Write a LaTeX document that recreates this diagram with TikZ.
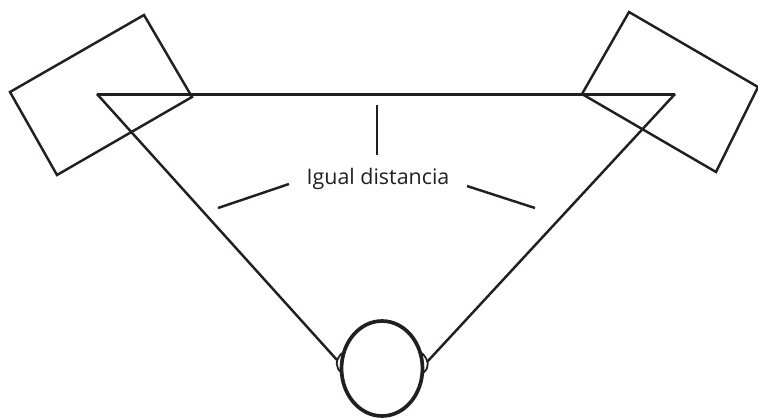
\documentclass[tikz,border=0pt]{standalone}
\usepackage{fontspec}
\setmainfont{Open Sans}
\usetikzlibrary{positioning, shapes.geometric}
\definecolor{mink}{HTML}{231F20}
\tikzset{
  wire/.style={mink, line width=1.4pt, line join=miter},
  topwire/.style={mink, line width=1.7pt},
  headbox/.style={draw=mink, line width=2.1pt, ellipse, inner sep=0pt,
                  minimum width=1.62cm, minimum height=1.9cm},
  earwire/.style={mink, line width=1pt},
  labelbox/.style={text=mink, font=\fontsize{12.2}{14}\selectfont, inner sep=0pt, anchor=base},
}
\begin{document}
\begin{tikzpicture}[x=0.02cm, y=-0.02cm]
  \useasboundingbox (0,0) rectangle (758,417);

  %% Speakers
  \draw[wire] (144,15) -- (192,97) -- (57,175) -- (10,92) -- cycle;
  \draw[wire] (629,12) -- (758,87) -- (716,172) -- (582,94) -- cycle;

  %% Listening triangle
  \coordinate (apexL) at (97,94);
  \coordinate (apexR) at (675,94);
  \coordinate (earL) at (337,360);
  \coordinate (earR) at (427,362);
  \draw[topwire] (apexL) -- (apexR);
  \draw[wire] (apexL) -- (earL);
  \draw[wire] (apexR) -- (earR);

  %% Head
  \node[headbox] (head) at (382,368.5) {};
  \draw[earwire] (342,353) .. controls (335,360) and (335,368) .. (342,373);
  \draw[earwire] (422,353) .. controls (429,360) and (430,368) .. (423,373);

  %% Label and its ticks
  \node[labelbox] (dist) at (378,184) {Igual distancia};
  \foreach \a/\b/\c/\d in {377/105/377/155, 218/208/289/184, 467/186/535/208}{
    \draw[wire] (\a,\b) -- (\c,\d);
  }
\end{tikzpicture}
\end{document}
